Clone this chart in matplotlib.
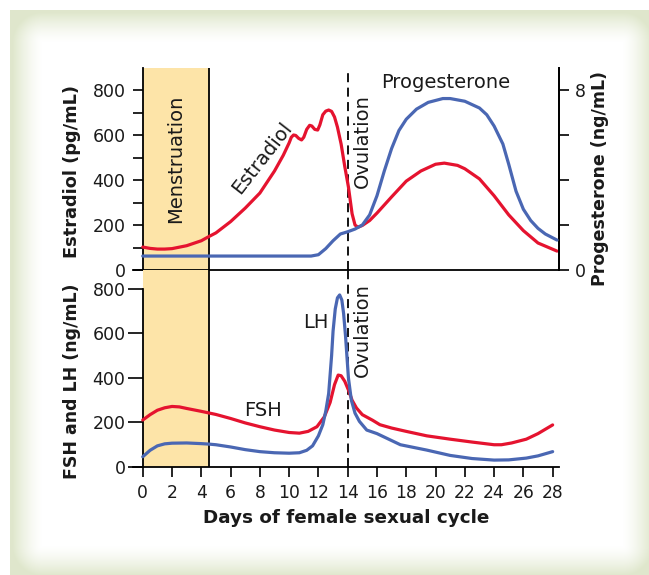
import matplotlib
matplotlib.use("Agg")
import matplotlib.pyplot as plt
import numpy as np

# --- data ---
estradiol_day = [0, 0.5, 1, 1.5, 2, 3, 4, 4.5, 5, 6, 7, 8, 9, 9.6, 10, 10.15, 10.3, 10.45,
                 10.65, 10.85, 11.0, 11.2, 11.4, 11.55, 11.75, 11.95, 12.1, 12.3, 12.5,
                 12.7, 12.9, 13.1, 13.3, 13.55, 13.8, 14.05, 14.3, 14.5, 14.7, 15, 15.5,
                 16, 17, 18, 19, 20, 20.6, 21.5, 22, 23, 24, 25, 26, 27, 28.3]
estradiol = [102, 96, 93, 93, 95, 108, 130, 148, 165, 215, 275, 342, 440, 510, 565, 590,
             600, 598, 585, 578, 590, 625, 643, 640, 625, 622, 645, 690, 706, 711, 705,
             680, 635, 560, 460, 369, 250, 200, 190, 198, 220, 253, 325, 395, 440, 470,
             475, 465, 450, 405, 330, 245, 175, 120, 84]

prog_day = [0, 4, 8, 11.5, 12, 12.5, 13, 13.5, 14, 14.5, 15, 15.5, 16, 16.5, 17, 17.5,
            18, 18.7, 19.5, 20.5, 21, 22, 23, 23.5, 24, 24.6, 25, 25.5, 26, 26.5, 27,
            27.5, 28.3]
progesterone = [0.62, 0.62, 0.62, 0.62, 0.68, 0.95, 1.3, 1.6, 1.7, 1.82, 2.0, 2.45, 3.3,
                4.4, 5.4, 6.2, 6.7, 7.15, 7.45, 7.62, 7.62, 7.5, 7.2, 6.9, 6.4, 5.6, 4.7,
                3.5, 2.7, 2.2, 1.85, 1.6, 1.33]

fsh_day = [0, 0.5, 1, 1.5, 2, 2.5, 3, 4, 4.5, 5, 6, 7, 8, 9, 10, 10.7, 11.3, 11.9, 12.4,
           12.8, 13.1, 13.35, 13.55, 13.8, 14.05, 14.3, 14.6, 15, 15.7, 16.2, 17, 18,
           19.4, 21, 22.5, 24, 24.5, 25.2, 26.2, 27, 28]
fsh = [211, 235, 255, 266, 272, 270, 263, 250, 243, 236, 218, 198, 181, 166, 155, 152,
       160, 181, 225, 290, 370, 413, 410, 385, 346, 300, 265, 235, 210, 190, 175, 160,
       140, 125, 112, 100, 100, 108, 125, 150, 189]

lh_day = [0, 0.5, 1, 1.5, 2, 3, 4, 4.5, 5, 6, 7, 8, 9, 10, 10.7, 11.2, 11.6, 12.0, 12.3,
          12.5, 12.7, 12.9, 13.0, 13.15, 13.3, 13.45, 13.6, 13.72, 13.85, 14.05, 14.25,
          14.5, 14.8, 15.3, 16, 17.6, 19.4, 21, 22.5, 24, 25, 26.2, 27, 28]
lh = [46, 75, 95, 104, 107, 108, 105, 103, 100, 90, 78, 69, 64, 62, 64, 75, 95, 140, 190,
      250, 330, 500, 610, 710, 760, 773, 750, 690, 590, 400, 300, 242, 205, 166, 150, 100,
      76, 52, 38, 31, 32, 40, 50, 69]

day_ticks = list(range(0, 29, 2))
menses_end = 4.5
ovulation_day = 14

RED = "#E5132F"
BLUE = "#4A67B3"
BAND = "#FDE4A8"
INK = "#1a1a1a"

W, H = 649, 575
fig = plt.figure(figsize=(W / 100, H / 100), dpi=100)


def fx(x):
    return x / W


def fy(y):
    return 1 - y / H


# soft green frame behind the chart
bg = fig.add_axes([0, 0, 1, 1])
bg.axis("off")
yy, xx = np.mgrid[0:H, 0:W]
dx = np.maximum(np.maximum(42 - xx, xx - 622), 0)
dy = np.maximum(np.maximum(42 - yy, yy - 545), 0)
t = np.clip(np.hypot(dx, dy) / 30.0, 0, 1) ** 1.4
green = np.array([0.875, 0.905, 0.80])
img = 1 - t[..., None] * (1 - green)
img[(xx < 10) | (yy < 10)] = 1
bg.imshow(img, extent=[0, W, H, 0], aspect="auto", interpolation="bilinear")
bg.set_xlim(0, W)
bg.set_ylim(H, 0)

xmin, xmax = -0.7, 28.4

# ---- top panel: estradiol / progesterone ----
ax1 = fig.add_axes([fx(132.5), fy(270), fx(558.5) - fx(132.5), fy(67.5) - fy(270)])
ax1.patch.set_alpha(0)
ax1.set_xlim(xmin, xmax)
ax1.set_ylim(0, 900)
ax1.axvspan(0, menses_end, color=BAND, zorder=0, lw=0)
ax1.axvline(menses_end, color="k", lw=1.3, zorder=1)
ax1.axvline(ovulation_day, color="k", lw=1.3, ls=(0, (5, 3)), zorder=1)
ax1.plot(estradiol_day, estradiol, color=RED, lw=2.3, solid_capstyle="round",
         solid_joinstyle="round", zorder=3)
ax1.spines["top"].set_visible(False)
ax1.spines["left"].set_position(("data", 0))
ax1.spines["right"].set_visible(True)
for s in ax1.spines.values():
    s.set_linewidth(1.3)
ax1.set_yticks(range(0, 801, 100))
ax1.set_yticklabels([str(v) if v % 200 == 0 else "" for v in range(0, 801, 100)])
ax1.tick_params(axis="y", direction="out", length=7.5, width=1.2, labelsize=12.5,
                labelcolor=INK, pad=5)
ax1.tick_params(axis="x", bottom=False, labelbottom=False)

ax2 = ax1.twinx()
ax2.set_ylim(0, 9)
ax2.plot(prog_day, progesterone, color=BLUE, lw=2.3, solid_capstyle="round",
         solid_joinstyle="round", zorder=3)
ax2.spines["top"].set_visible(False)
ax2.spines["left"].set_visible(False)
ax2.spines["bottom"].set_visible(False)
ax2.spines["right"].set_linewidth(1.3)
ax2.set_yticks([0, 2, 4, 6, 8])
ax2.set_yticklabels(["0", "", "", "", "8"])
ax2.tick_params(axis="y", direction="out", length=7.5, width=1.2, labelsize=12.5,
                labelcolor=INK, pad=4)

# ---- bottom panel: FSH / LH ----
ax3 = fig.add_axes([fx(132.5), fy(467), fx(558.5) - fx(132.5), fy(270) - fy(467)])
ax3.patch.set_alpha(0)
ax3.set_xlim(xmin, xmax)
ax3.set_ylim(0, 885)
ax3.axvspan(0, menses_end, color=BAND, zorder=0, lw=0)
ax3.axvline(menses_end, color="k", lw=1.3, zorder=1)
ax3.axvline(ovulation_day, color="k", lw=1.3, ls=(0, (5, 3)), zorder=1)
ax3.plot(fsh_day, fsh, color=RED, lw=2.3, solid_capstyle="round",
         solid_joinstyle="round", zorder=3)
ax3.plot(lh_day, lh, color=BLUE, lw=2.3, solid_capstyle="round",
         solid_joinstyle="round", zorder=4)
ax3.spines["top"].set_visible(False)
ax3.spines["right"].set_visible(False)
ax3.spines["left"].set_position(("data", 0))
ax3.spines["left"].set_bounds(0, 800)
for s in ax3.spines.values():
    s.set_linewidth(1.3)
ax3.set_yticks(range(0, 801, 200))
ax3.set_xticks(day_ticks)
ax3.tick_params(axis="y", direction="out", length=10.5, width=1.2, labelsize=12.5,
                labelcolor=INK, pad=2)
ax3.tick_params(axis="x", direction="out", length=7.5, width=1.2, labelsize=12.3,
                labelcolor=INK, pad=5)

# ---- axis titles ----
lab = dict(fontweight="bold", color=INK, ha="center", va="center")
fig.text(fx(72), fy(172), "Estradiol (pg/mL)", rotation=90, fontsize=12.8, **lab)
fig.text(fx(72), fy(381), "FSH and LH (ng/mL)", rotation=90, fontsize=12.5, **lab)
fig.text(fx(600), fy(178), "Progesterone (ng/mL)", rotation=90, fontsize=12.5, **lab)
fig.text(fx(346), fy(518), "Days of female sexual cycle", fontsize=13.2, **lab)

# ---- annotations ----
ann = dict(fontsize=14, color=INK, ha="center", va="center")
fig.text(fx(176), fy(159), "Menstruation", rotation=90, **ann)
fig.text(fx(262), fy(158), "Estradiol", rotation=52, **ann)
fig.text(fx(362), fy(141), "Ovulation", rotation=90, **ann)
fig.text(fx(446), fy(83), "Progesterone", **ann)
fig.text(fx(316), fy(322), "LH", **ann)
fig.text(fx(263), fy(410), "FSH", **ann)
fig.text(fx(362), fy(330), "Ovulation", rotation=90, **ann)

fig.savefig("out.png", dpi=100)
plt.close(fig)
